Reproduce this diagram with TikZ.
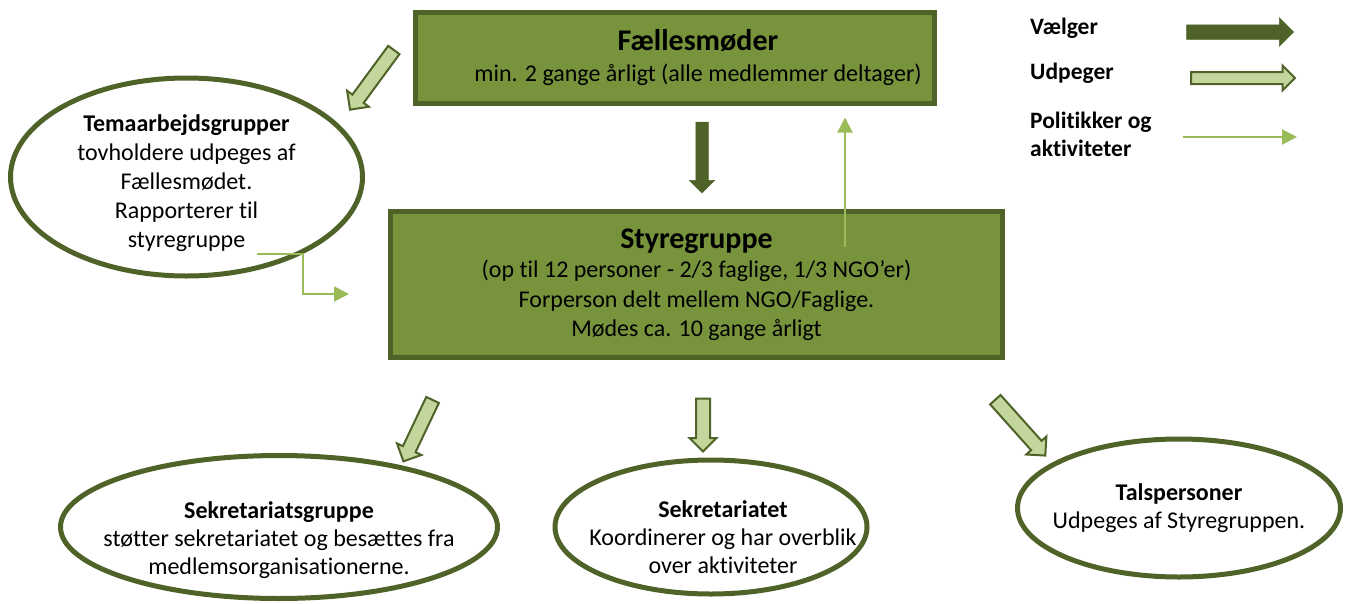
\documentclass[tikz,border=0pt]{standalone}
\usepackage{fontspec}
\setmainfont{Carlito}[Ligatures=NoCommon]
\usetikzlibrary{shapes.geometric,shapes.arrows,arrows.meta,positioning}
\definecolor{boxgreen}{HTML}{77933C}
\definecolor{darkgreen}{HTML}{4F6228}
\definecolor{palegreen}{HTML}{C3D69B}
\definecolor{linegreen}{HTML}{9BBB59}
\newcommand{\boxtitle}{\bfseries\fontsize{30}{34}\selectfont}
\tikzset{
  orgbox/.style={draw=darkgreen, line width=5pt, fill=boxgreen, align=center, inner sep=0pt, font=\fontsize{24}{29.5}\selectfont},
  oval/.style={ellipse, draw=darkgreen, line width=5pt, fill=white, inner sep=0pt},
  ovaltext/.style={align=center, inner sep=0pt, font=\fontsize{24}{28}\selectfont},
  udpeger/.style={single arrow, draw=darkgreen, line width=2pt, fill=palegreen, inner xsep=0pt, inner ysep=6pt, single arrow head extend=6.5pt},
  vaelger/.style={single arrow, draw=darkgreen, fill=darkgreen, line width=0.5pt, inner xsep=0pt, inner ysep=6pt, single arrow head extend=6.5pt},
  politik/.style={draw=linegreen, line width=2pt, -{Triangle[length=15pt,width=15pt]}},
  legendtext/.style={anchor=west, inner sep=0pt, align=left, font=\bfseries\fontsize{23.5}{28}\selectfont}
}
\begin{document}
\begin{tikzpicture}[x=1pt,y=-1pt]
\useasboundingbox (0,0) rectangle (1345,603);

\node[orgbox, minimum width=519, minimum height=91] (faelles) at (675,58) {};
\node[align=center, inner sep=0pt, font=\fontsize{24}{31}\selectfont] (faellestxt) at ([xshift=23pt]faelles.center)
  {{\boxtitle Fællesmøder}\\ min. 2 gange årligt (alle medlemmer deltager)};
\node[orgbox, minimum width=612, minimum height=146] (styr) at (696.5,284.5)
  {{\boxtitle Styregruppe}\\ (op til 12 personer - 2/3 faglige, 1/3 NGO’er)\\
   Forperson delt mellem NGO/Faglige.\\ Mødes ca. 10 gange årligt};

\node[oval, minimum width=352, minimum height=198] (tema) at (186.5,177) {};
\node[ovaltext, font=\fontsize{24}{29}\selectfont] (tematxt) at ([yshift=-6pt]tema.center)
  {\textbf{Temaarbejdsgrupper}\\ tovholdere udpeges af\\ Fællesmødet.\\ Rapporterer til\\ styregruppe};
\node[oval, minimum width=437, minimum height=143] (sekgr) at (279,527) {};
\node[ovaltext] (sekgrtxt) at ([yshift=-13pt]sekgr.center)
  {\textbf{Sekretariatsgruppe}\\ støtter sekretariatet og besættes fra\\ medlemsorganisationerne.};
\node[oval, minimum width=312, minimum height=134] (sek) at (711,527) {};
\node[ovaltext] (sektxt) at ([xshift=12pt,yshift=-10pt]sek.center)
  {\textbf{Sekretariatet}\\ Koordinerer og har overblik\\ over aktiviteter};
\node[oval, minimum width=323, minimum height=138] (tals) at (1179,508) {};
\node[ovaltext] (talstxt) at (tals.center)
  {\textbf{Talspersoner}\\ Udpeges af Styregruppen.};

% pile
\node[vaelger, minimum height=71, rotate=-90] (vael) at (702,154.5) {};
\node[udpeger, minimum height=74, rotate=-126.3] (udp1) at (374,77) {};
\node[udpeger, minimum height=68, rotate=-115.4] (udp2) at (419.5,427.5) {};
\node[udpeger, minimum height=53, rotate=-90] (udp3) at (703,421.5) {};
\node[udpeger, minimum height=75, rotate=-48.2] (udp4) at (1018,425) {};

\coordinate (polup) at (845,247);
\draw[politik, shorten >=11.5pt] (polup) -- (polup |- faelles.south);
\coordinate (temaout) at (257,254);
\draw[politik] (temaout) -- ++(46,0) |- ([xshift=-39pt,yshift=-9.5pt]styr.west);

% forklaring
\node[legendtext] (legvael) at (1030,28) {Vælger};
\node[legendtext] (legudp) at (1030,73) {Udpeger};
\node[legendtext] (legpol) at (1030,134) {Politikker og\\ aktiviteter};
\node[vaelger, minimum height=107, inner ysep=7pt, single arrow head extend=7pt] (legvaelpil) at (1236.5,32) {};
\node[udpeger, minimum height=104, inner ysep=5pt] (legudppil) at (1240,78) {};
\coordinate (legpolA) at (1183,137);
\coordinate (legpolB) at (1297,137);
\draw[politik] (legpolA) -- (legpolB);
\end{tikzpicture}
\end{document}
